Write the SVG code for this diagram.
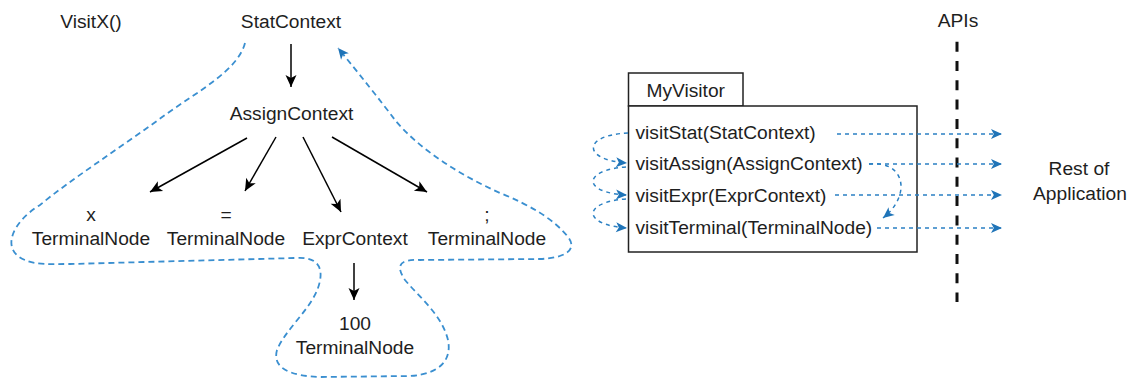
<svg xmlns="http://www.w3.org/2000/svg" width="1132" height="381" viewBox="0 0 1132 381">
<style>
.t{font-family:"Liberation Sans",Arial,sans-serif;font-size:19.2px;fill:#1e1e1e;text-anchor:middle}
.tl{text-anchor:start}
.tree{stroke:#000;stroke-width:1.5;fill:none;marker-end:url(#ab)}
.blue{stroke:#2b80c3;stroke-width:1.5;stroke-dasharray:4 4;fill:none;marker-end:url(#abl)}
.lasso{stroke:#3a8fd0;stroke-width:1.8;stroke-dasharray:6 4;fill:none}
.box{fill:#fff;stroke:#222;stroke-width:1.5}
</style>
<defs>
<marker id="ab" markerUnits="userSpaceOnUse" viewBox="0 0 14 14" markerWidth="14" markerHeight="14" refX="13" refY="7" orient="auto"><path d="M1,1.5 L13,7 L1,12.5 L4,7 Z" fill="#000"/></marker>
<marker id="abl" markerUnits="userSpaceOnUse" viewBox="0 0 13 13" markerWidth="13" markerHeight="13" refX="12" refY="6.5" orient="auto"><path d="M1,1.5 L12,6.5 L1,11.5 L3.8,6.5 Z" fill="#1f74b8"/></marker>
</defs>
<rect width="1132" height="381" fill="#fff"/>

<g id="visitx"><text class="t" x="91" y="28">VisitX()</text></g>
<g id="stat"><text class="t" x="291" y="28">StatContext</text></g>
<g id="assign"><text class="t" x="291.5" y="120">AssignContext</text></g>
<g id="term-x"><text class="t" x="91" y="221">x</text><text class="t" x="91" y="245">TerminalNode</text></g>
<g id="term-eq"><text class="t" x="226" y="221">=</text><text class="t" x="226" y="245">TerminalNode</text></g>
<g id="expr"><text class="t" x="355" y="245">ExprContext</text></g>
<g id="term-semi"><text class="t" x="487" y="221">;</text><text class="t" x="487" y="245">TerminalNode</text></g>
<g id="term-100"><text class="t" x="355" y="330">100</text><text class="t" x="355" y="354">TerminalNode</text></g>

<g id="myvisitor">
<rect class="box" x="628.5" y="73" width="114.5" height="33"/>
<rect class="box" x="628.5" y="106" width="288.5" height="146"/>
<text class="t" x="685.7" y="97">MyVisitor</text>
<text class="t tl" x="635.5" y="139">visitStat(StatContext)</text>
<text class="t tl" x="635.5" y="170">visitAssign(AssignContext)</text>
<text class="t tl" x="635.5" y="202">visitExpr(ExprContext)</text>
<text class="t tl" x="635.5" y="234">visitTerminal(TerminalNode)</text>
</g>
<g id="apis"><text class="t" x="958" y="27">APIs</text>
<line x1="957" y1="41.7" x2="957" y2="302" stroke="#111" stroke-width="3" stroke-dasharray="10 9.3"/></g>
<g id="rest"><text class="t" x="1079" y="175">Rest of</text><text class="t" x="1080" y="200">Application</text></g>

<g id="connectors">
<path class="tree" d="M291,44 L291,87"/>
<path class="tree" d="M247,138 L150,192"/>
<path class="tree" d="M276,137 L245,191"/>
<path class="tree" d="M303,137 L341,212"/>
<path class="tree" d="M332,137 L427,192"/>
<path class="tree" d="M354,263 L354,300"/>
<path class="lasso" marker-end="url(#abl)" d="M245,43 C238,70 200,90 165,115 C120,148 70,180 40,205 C12,222 0,250 25,260 C35,265 50,264 70,264 L295,258 C318,256 325,268 318,288 C310,310 285,330 277,350 C272,368 290,376 320,377 L410,376 C440,374 452,360 448,340 C442,315 420,298 405,280 C395,265 400,259 420,260 L540,259 C565,258 578,250 568,237 C555,220 530,205 500,193 C460,175 420,150 395,120 C380,100 360,75 338,48"/>
<path class="blue" d="M837,134 L1002,134"/>
<path class="blue" d="M869,164 L1002,164"/>
<path class="blue" d="M835,195 L1002,195"/>
<path class="blue" d="M877,228 L1002,228"/>
<path class="blue" d="M869,164 C905,160 912,195 883,218"/>
<path class="blue" d="M628,133 C582,135 582,160 627,163"/>
<path class="blue" d="M626,167 C582,170 582,193 627,195"/>
<path class="blue" d="M626,199 C582,202 582,225 627,228"/>
</g>
</svg>
